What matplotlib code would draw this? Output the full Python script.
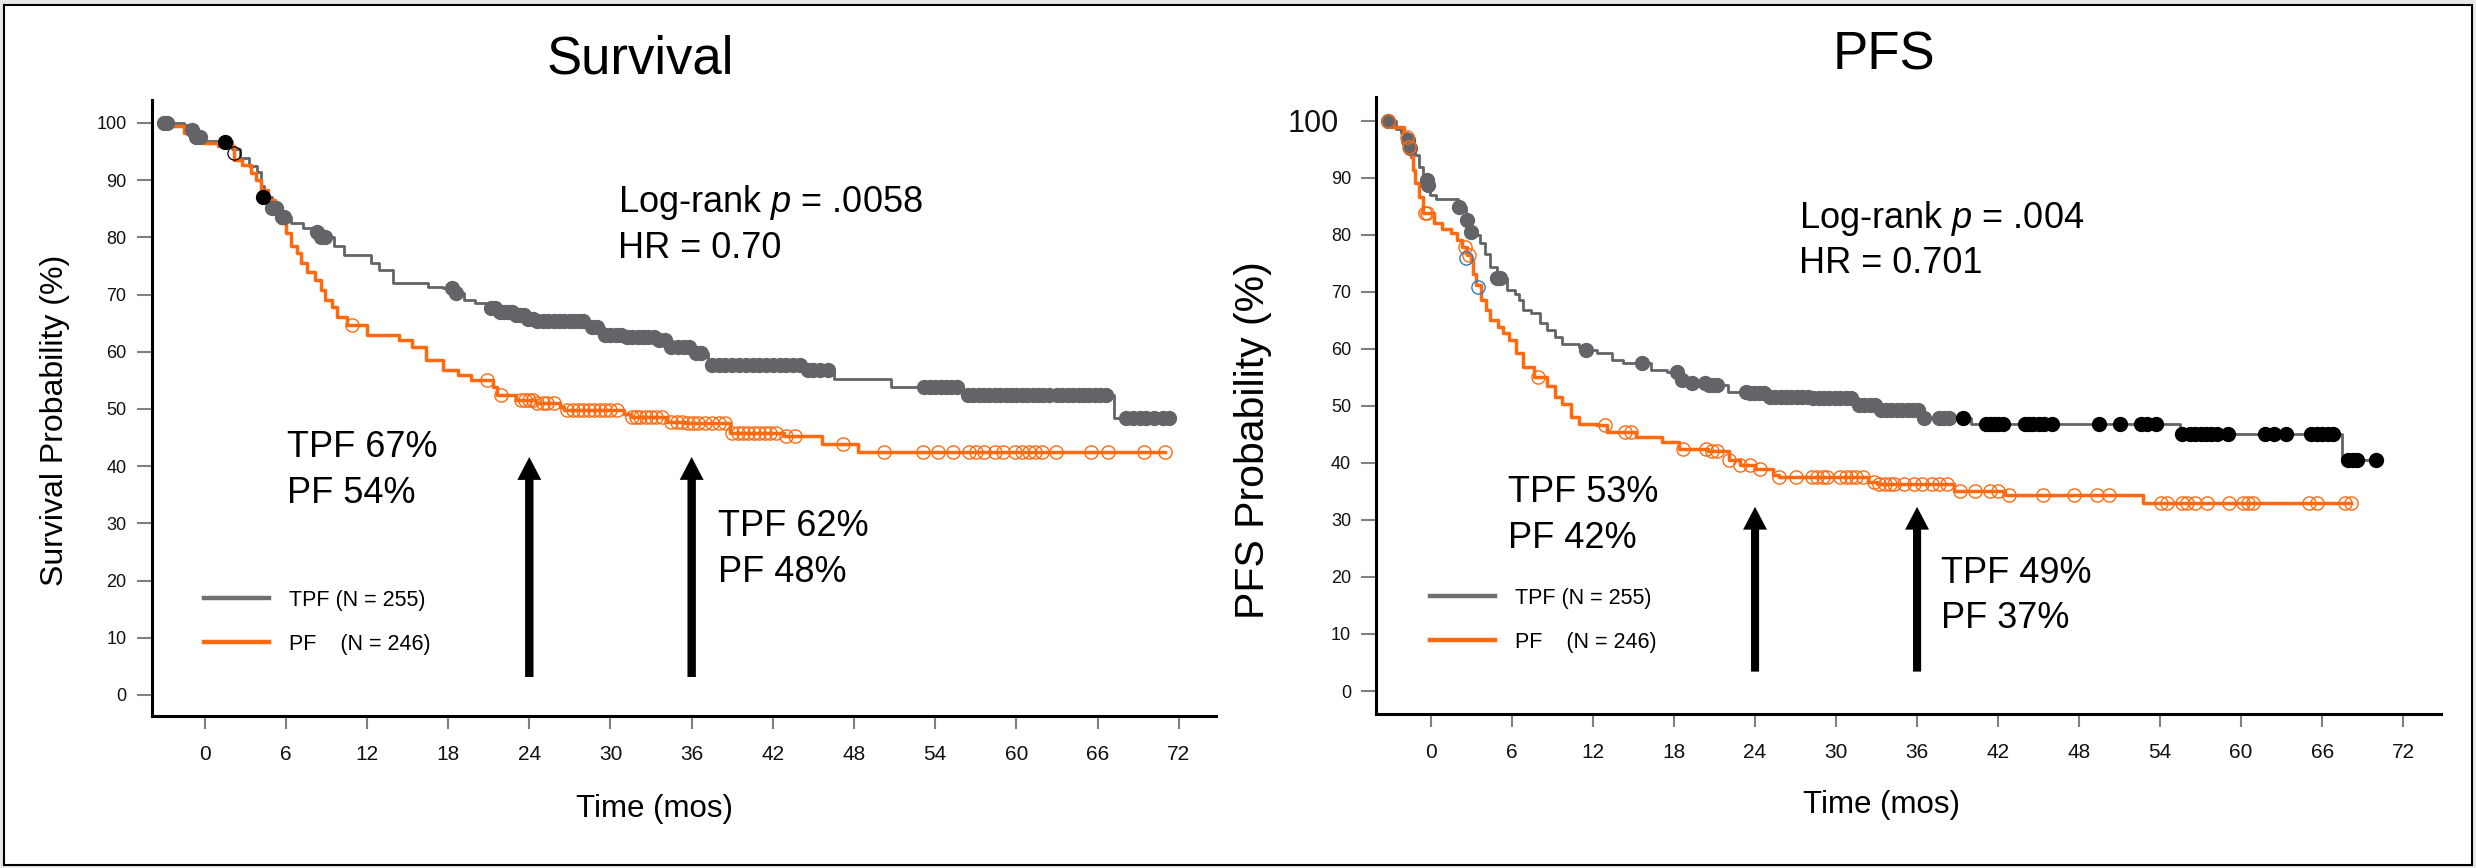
import numpy as np
import matplotlib
matplotlib.use("Agg")
import matplotlib.pyplot as plt
from matplotlib.lines import Line2D
from matplotlib.patches import Rectangle

plt.rcParams['font.family'] = ['Liberation Sans', 'DejaVu Sans']
plt.rcParams['mathtext.fontset'] = 'custom'
plt.rcParams['mathtext.rm'] = 'Liberation Sans'
plt.rcParams['mathtext.it'] = 'Liberation Sans:italic'

# ---------------- data ----------------
XTICKS = [0, 6, 12, 18, 24, 30, 36, 42, 48, 54, 60, 66, 72]
YTICKS = [0, 10, 20, 30, 40, 50, 60, 70, 80, 90, 100]
GROUPS = ["TPF (N = 255)", "PF    (N = 246)"]

# Overall survival, TPF (step times -> level after step)
os_tpf_t = [-3.0, -1.5, -1.0, -0.6, 0.0, 2.0, 2.6, 3.3, 3.9, 4.2, 4.4, 5.0, 5.7, 6.4, 7.3, 8.0, 8.6, 9.6,
            10.3, 12.3, 12.9, 13.9, 16.5, 17.6, 18.5, 19.2, 20.0, 20.8, 21.8, 22.8, 23.8, 24.5, 28.4, 29.5,
            31.0, 33.5, 34.2, 36.2, 37.2, 44.4, 46.5, 50.7, 56.0, 67.2]
os_tpf_s = [100, 99.6, 98.8, 97.5, 96.8, 95.5, 93.8, 92.4, 91.5, 88.9, 87.1, 85.1, 83.6, 82.5, 81.6, 81.0, 80.1,
            78.4, 76.9, 75.5, 74.3, 72.1, 71.4, 71.1, 70.3, 69.0, 68.5, 67.6, 67.0, 66.4, 65.8, 65.3, 64.4, 62.9,
            62.5, 62.0, 60.9, 59.7, 57.6, 56.8, 55.2, 53.9, 52.4, 48.4]
os_tpf_end = 71.3
os_tpf_cens = [-3.0, -2.8, -0.9, -0.6, -0.3, 5.0, 5.3, 5.7, 5.9, 8.3, 8.6, 8.9, 18.3, 18.6, 21.2, 21.5, 21.8,
               22.1, 22.4, 22.7, 23.0, 23.3, 23.6, 23.9, 24.3, 24.6, 25.0, 25.4, 25.8, 26.2, 26.6, 27.0, 27.3,
               27.7, 28.0, 28.6, 29.0, 29.6, 30.0, 30.4, 30.8, 31.2, 31.6, 32.0, 32.4, 32.8, 33.2, 33.6, 34.0,
               34.5, 35.0, 35.4, 35.8, 36.3, 36.7, 37.5, 38.0, 38.5, 39.0, 39.5, 40.0, 40.5, 41.0, 41.5, 42.0,
               42.5, 43.0, 43.5, 44.0, 44.6, 45.0, 45.5, 46.1, 53.2, 53.6, 54.0, 54.4, 54.8, 55.2, 55.6, 56.4,
               56.8, 57.2, 57.6, 58.0, 58.4, 58.8, 59.2, 59.6, 60.0, 60.4, 60.8, 61.2, 61.6, 62.0, 62.4, 63.0,
               63.4, 63.8, 64.2, 64.6, 65.0, 65.4, 65.8, 66.2, 66.6, 68.1, 68.6, 69.1, 69.6, 70.2, 70.8, 71.3]

# Overall survival, PF
os_pf_t = [-3.0, -2.4, -1.5, -0.2, 1.0, 2.2, 2.8, 3.4, 3.8, 4.2, 4.7, 5.2, 5.6, 6.0, 6.4, 6.8, 7.1, 7.6, 8.2,
           8.6, 8.9, 9.4, 9.8, 10.5, 12.0, 14.4, 15.3, 16.4, 17.6, 18.7, 19.7, 21.3, 21.6, 23.0, 24.5, 26.3,
           26.6, 31.0, 31.5, 34.2, 35.5, 38.8, 42.8, 45.6, 48.3]
os_pf_s = [100, 99.4, 98.2, 96.4, 95.9, 93.5, 92.7, 91.2, 90.0, 88.3, 86.5, 84.2, 82.5, 80.7, 78.4, 77.2, 75.5,
           74.0, 72.6, 70.8, 69.1, 67.9, 66.1, 64.6, 63.0, 62.0, 60.9, 58.6, 56.8, 55.9, 55.1, 53.9, 52.4, 51.6,
           51.0, 50.4, 49.8, 49.2, 48.6, 47.8, 47.5, 45.8, 45.2, 43.9, 42.5]
os_pf_end = 71.0
os_pf_cens = [10.9, 20.9, 21.9, 23.4, 23.7, 24.0, 24.3, 24.6, 25.0, 25.3, 25.8, 26.8, 27.2, 27.6, 28.0, 28.4,
              28.8, 29.2, 29.6, 30.0, 30.5, 31.6, 31.9, 32.2, 32.6, 33.0, 33.4, 33.8, 34.5, 34.9, 35.3, 35.7,
              36.1, 36.5, 37.0, 37.5, 38.0, 38.5, 39.0, 39.4, 39.8, 40.2, 40.6, 41.0, 41.4, 41.8, 42.2, 43.0,
              43.6, 47.2, 50.2, 53.1, 54.2, 55.3, 56.5, 57.0, 57.6, 58.4, 59.0, 59.9, 60.4, 60.9, 61.4, 61.9,
              62.9, 65.5, 66.8, 69.4, 71.0]
os_black_dot_t = [1.5, 4.3]
os_black_dot_s = [96.6, 87.1]
os_black_ring_t = [2.2]
os_black_ring_s = [94.7]

# PFS, TPF
pfs_tpf_t = [-3.2, -2.6, -2.2, -1.7, -1.55, -1.2, -0.9, -0.6, -0.2, -0.1, 0.4, 2.0, 2.6, 2.9, 3.2, 3.6, 4.0,
             4.4, 4.9, 5.6, 6.2, 6.5, 6.8, 7.4, 8.1, 8.6, 9.15, 9.7, 11.0, 11.3, 12.3, 13.4, 14.2, 16.3, 17.5,
             18.3, 19.2, 20.5, 22.0, 23.5, 24.8, 28.0, 31.6, 33.0, 36.4, 40.0, 55.5, 67.5]
pfs_tpf_s = [100, 98.5, 97.8, 96.6, 95.2, 94.0, 91.9, 89.6, 88.7, 87.0, 86.3, 84.9, 82.6, 80.5, 79.9, 78.5,
             76.7, 74.4, 72.4, 70.3, 69.7, 68.6, 66.8, 66.2, 64.5, 63.3, 62.1, 60.9, 60.4, 59.8, 59.2, 58.1,
             57.5, 56.3, 56.0, 54.5, 54.0, 53.7, 52.5, 52.2, 51.6, 51.3, 50.1, 49.3, 47.8, 46.8, 45.1, 40.5]
pfs_tpf_end = 70.0
pfs_tpf_cens_gray = [-3.2, -1.7, -1.55, -0.3, -0.2, 2.1, 2.7, 2.95, 4.9, 5.1, 11.5, 15.6, 18.2, 18.6, 19.3,
                     20.3, 20.6, 20.9, 21.2, 23.3, 23.6, 23.9, 24.3, 24.7, 25.1, 25.5, 25.9, 26.3, 26.7, 27.1,
                     27.5, 27.9, 28.3, 28.7, 29.1, 29.5, 29.9, 30.3, 30.7, 31.1, 31.7, 32.1, 32.5, 32.9, 33.3,
                     33.7, 34.1, 34.5, 34.9, 35.3, 35.7, 36.1, 36.5, 37.6, 38.0, 38.4]
pfs_tpf_cens_black = [39.4, 41.1, 41.4, 41.7, 42.0, 42.4, 44.0, 44.3, 44.6, 45.0, 45.4, 46.0, 49.5, 51.0, 52.6,
                      53.0, 53.7, 55.6, 56.2, 56.6, 57.0, 57.4, 57.8, 58.2, 59.0, 61.8, 62.4, 63.3, 65.2, 65.6,
                      66.0, 66.4, 66.8, 67.9, 68.3, 68.6, 70.0]

# PFS, PF
pfs_pf_t = [-3.15, -2.85, -2.0, -1.7, -1.45, -1.3, -1.15, -0.9, -0.6, 0.2, 0.8, 1.5, 1.9, 2.3, 2.7, 3.0, 3.1,
            3.3, 3.7, 4.1, 4.4, 5.0, 5.3, 5.8, 6.3, 6.8, 7.6, 8.6, 9.2, 9.7, 10.35, 11.0, 12.3, 13.0, 15.2, 17.1,
            18.4, 20.5, 22.1, 22.9, 24.0, 25.3, 25.8, 32.4, 33.0, 38.7, 42.5, 52.7]
pfs_pf_s = [100, 98.9, 97.2, 95.4, 93.7, 91.4, 89.0, 86.7, 83.8, 82.0, 81.1, 80.3, 79.1, 77.9, 76.5, 75.6, 73.2,
            71.2, 68.6, 66.8, 65.1, 63.9, 62.7, 61.5, 59.2, 56.9, 55.1, 53.4, 51.6, 50.4, 48.1, 46.9, 46.6, 45.5,
            44.6, 43.7, 42.5, 42.0, 40.5, 39.6, 39.0, 37.9, 37.6, 36.7, 36.3, 35.1, 34.4, 32.9]
pfs_pf_end = 68.1
pfs_pf_cens = [-3.15, -1.75, -1.6, -0.45, -0.3, 2.5, 2.8, 7.96, 12.9, 14.4, 14.8, 18.7, 20.4, 20.8, 21.2, 22.1,
               22.9, 23.6, 24.4, 25.8, 27.0, 28.2, 28.6, 29.0, 29.3, 30.3, 30.7, 31.1, 31.5, 32.0, 32.8, 33.2,
               33.6, 34.0, 34.3, 35.0, 35.8, 36.4, 37.1, 37.6, 38.2, 39.2, 40.3, 41.4, 42.0, 42.8, 45.3, 47.6,
               49.3, 50.2, 54.1, 54.5, 55.6, 56.0, 56.6, 57.5, 59.1, 60.1, 60.5, 60.9, 65.0, 65.6, 67.7, 68.1]
pfs_blue_ring_t = [2.6, 3.46]
pfs_blue_ring_s = [76.0, 70.9]

# annotations
os_arrow_t = [24, 36]
os_arrow_from, os_arrow_to = 3.15, 41.6
pfs_arrow_t = [24, 36]
pfs_arrow_from, pfs_arrow_to = 3.4, 32.3

# ---------------- style ----------------
GRAY = '#636468'
ORANGE = '#ff6a10'
LEG_GRAY = '#707073'
W, H = 2476, 868

fig = plt.figure(figsize=(W / 100, H / 100), dpi=100, facecolor='#e8e8e8')
fig.add_artist(Rectangle((4 / W, 1 - 865 / H), 2468 / W, 860 / H, transform=fig.transFigure,
                         facecolor='white', edgecolor='black', linewidth=1.5, zorder=-10))


def fxy(x, y):
    return x / W, 1 - y / H


def step_level(times, levels, t):
    idx = np.searchsorted(np.asarray(times), np.asarray(t), side='right') - 1
    idx = np.clip(idx, 0, len(levels) - 1)
    return np.asarray(levels)[idx]


def draw_curve(ax, times, levels, end, color, lw):
    tt = list(times) + [end]
    ll = list(levels) + [levels[-1]]
    ax.step(tt, ll, where='post', color=color, lw=lw, zorder=3)


def dots(ax, t, s, fc, ec, ms=10, mew=1.0, z=4):
    ax.plot(t, s, ls='none', marker='o', ms=ms, mfc=fc, mec=ec, mew=mew, zorder=z)


def setup_axes(rect, xlim, ylim):
    ax = fig.add_axes(rect)
    ax.set_facecolor('none')
    ax.set_xlim(*xlim)
    ax.set_ylim(*ylim)
    for s in ['top', 'right']:
        ax.spines[s].set_visible(False)
    for s in ['left', 'bottom']:
        ax.spines[s].set_linewidth(2.2)
        ax.spines[s].set_color('black')
    ax.set_xticks(XTICKS)
    ax.set_yticks(YTICKS)
    ax.tick_params(axis='x', length=9, width=1.5, color='#808080', labelsize=15, pad=12, labelcolor='#111111')
    ax.tick_params(axis='y', length=11, width=1.5, color='#808080', labelsize=13, pad=7, labelcolor='#111111')
    return ax


axL = setup_axes([151.5 / W, 1 - 715.7 / H, (1216 - 151.5) / W, (715.7 - 100) / H], (-3.92, 74.75), (-3.62, 104.0))
axR = setup_axes([1376 / W, 1 - 713.7 / H, (2441 - 1376) / W, (713.7 - 97) / H], (-4.07, 74.8), (-3.98, 104.16))

# ---- left: overall survival ----
draw_curve(axL, os_tpf_t, os_tpf_s, os_tpf_end, GRAY, 2.0)
dots(axL, os_tpf_cens, step_level(os_tpf_t, os_tpf_s, os_tpf_cens), GRAY, GRAY)
draw_curve(axL, os_pf_t, os_pf_s, os_pf_end, ORANGE, 2.5)
dots(axL, os_pf_cens, step_level(os_pf_t, os_pf_s, os_pf_cens), 'none', ORANGE, ms=9.5, mew=1.0, z=5)
dots(axL, os_black_dot_t, os_black_dot_s, 'black', 'black', z=6)
dots(axL, os_black_ring_t, os_black_ring_s, 'none', 'black', ms=9.5, mew=0.9, z=6)

# ---- right: PFS ----
draw_curve(axR, pfs_tpf_t, pfs_tpf_s, pfs_tpf_end, GRAY, 2.0)
dots(axR, pfs_tpf_cens_gray, step_level(pfs_tpf_t, pfs_tpf_s, pfs_tpf_cens_gray), GRAY, GRAY)
dots(axR, pfs_tpf_cens_black, step_level(pfs_tpf_t, pfs_tpf_s, pfs_tpf_cens_black), 'black', 'black')
draw_curve(axR, pfs_pf_t, pfs_pf_s, pfs_pf_end, ORANGE, 2.5)
dots(axR, pfs_pf_cens, step_level(pfs_pf_t, pfs_pf_s, pfs_pf_cens), 'none', ORANGE, ms=9.5, mew=1.0, z=5)
dots(axR, pfs_blue_ring_t, pfs_blue_ring_s, 'none', '#2b7bb9', ms=9.5, mew=1.0, z=6)

# arrows
for t in os_arrow_t:
    axL.arrow(t, os_arrow_from, 0, os_arrow_to - os_arrow_from, width=0.62, head_width=1.77,
              head_length=4.0, length_includes_head=True, fc='black', ec='none', zorder=7)
for t in pfs_arrow_t:
    axR.arrow(t, pfs_arrow_from, 0, pfs_arrow_to - pfs_arrow_from, width=0.6, head_width=1.77,
              head_length=4.0, length_includes_head=True, fc='black', ec='none', zorder=7)

# legends
for ax, anchor in ((axL, (204, 590)), (axR, (1430, 588))):
    handles = [Line2D([], [], color=LEG_GRAY, lw=3.2), Line2D([], [], color=ORANGE, lw=3.2)]
    ax.legend(handles, GROUPS, loc='upper left', bbox_to_anchor=fxy(*anchor), bbox_transform=fig.transFigure,
              frameon=False, fontsize=15.5, handlelength=3.0, handletextpad=0.95, labelspacing=1.05,
              borderpad=0, borderaxespad=0)

# axis labels
axL.set_xlabel('Time (mos)', fontsize=22.5, va='baseline')
axL.xaxis.set_label_coords(*fxy(655, 816.7), transform=fig.transFigure)
axR.set_xlabel('Time (mos)', fontsize=22.5, va='baseline')
axR.xaxis.set_label_coords(*fxy(1881, 813), transform=fig.transFigure)
axL.set_ylabel('Survival Probability (%)', fontsize=23, va='center')
axL.yaxis.set_label_coords(*fxy(55, 420), transform=fig.transFigure)
axR.set_ylabel('PFS Probability (%)', fontsize=29.5, va='center')
axR.yaxis.set_label_coords(*fxy(1253, 440), transform=fig.transFigure)

# titles
fig.text(*fxy(640, 73), 'Survival', fontsize=38, ha='center', va='baseline')
fig.text(*fxy(1884, 70), 'PFS', fontsize=38, ha='center', va='baseline')

# annotations
notes = [
    ('Log-rank $p$ = .0058', 618, 212), ('HR = 0.70', 618, 258),
    ('TPF 67%', 287, 457), ('PF 54%', 287, 503),
    ('TPF 62%', 718, 536), ('PF 48%', 718, 582),
    ('Log-rank $p$ = .004', 1799, 228), ('HR = 0.701', 1799, 273),
    ('TPF 53%', 1507.7, 501.7), ('PF 42%', 1507.7, 548),
    ('TPF 49%', 1941, 582.7), ('PF 37%', 1941, 628),
]
for s, x, y in notes:
    fig.text(*fxy(x, y), s, fontsize=26, ha='left', va='baseline')

# the larger "100" on the PFS axis
top_tick = axR.yaxis.get_major_ticks()[-1]
top_tick.label1.set_fontsize(22)
top_tick.set_pad(15.5)

fig.savefig('out.png', dpi=100, facecolor=fig.get_facecolor())
